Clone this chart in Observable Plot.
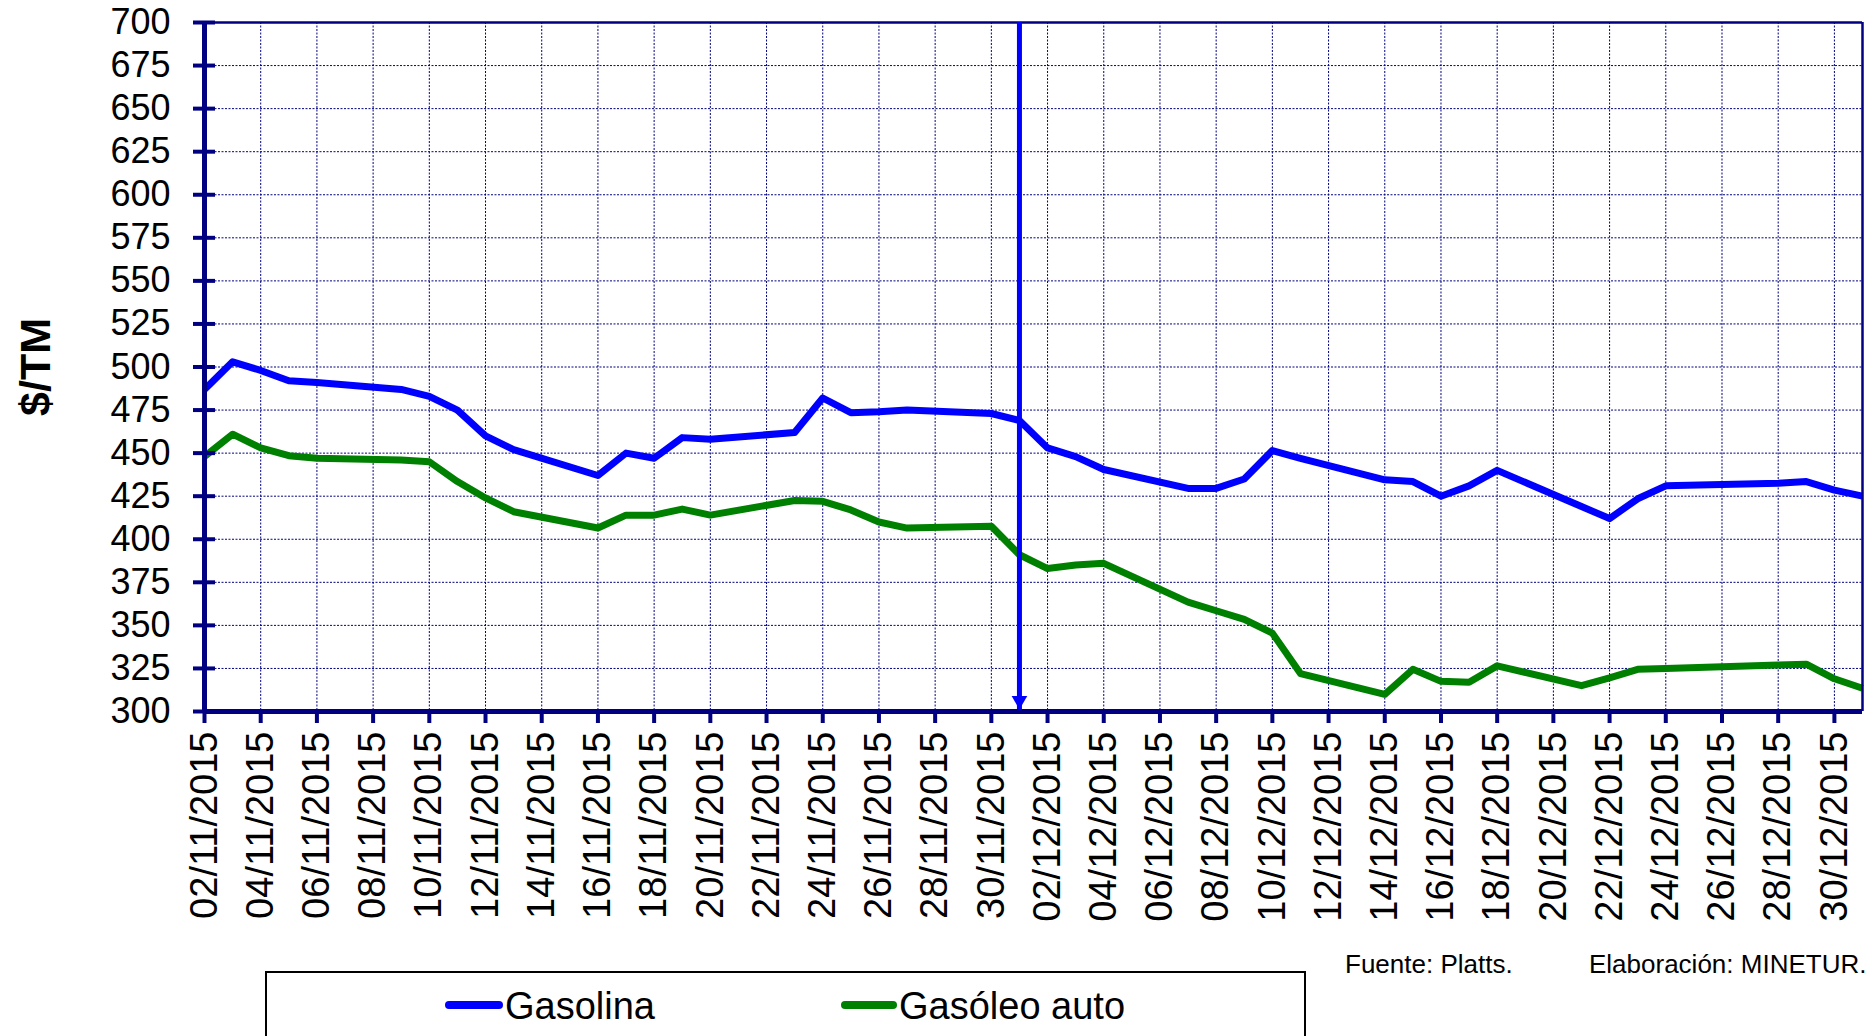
<!DOCTYPE html>
<html>
<head>
<meta charset="utf-8">
<script src="https://cdn.jsdelivr.net/npm/d3@7"></script>
<script src="https://cdn.jsdelivr.net/npm/@observablehq/plot@0.6"></script>
<style>
  html, body { margin: 0; padding: 0; background: #fff; }
  #wrap { position: relative; width: 1876px; height: 1036px; overflow: hidden; font-family: "Liberation Sans", Arial, sans-serif; }
  #chart { position: absolute; left: 0; top: 0; }
  .legend { position: absolute; left: 265px; top: 971px; width: 1041px; height: 100px; border: 2.5px solid #000; box-sizing: border-box; }
  .sw { position: absolute; height: 8px; border-radius: 4px; }
  .lt { position: absolute; font-size: 38px; color: #000; line-height: 1; }
  .cap { position: absolute; font-size: 26px; color: #000; line-height: 1; top: 951px; }
</style>
</head>
<body>
<div id="wrap">
  <div id="chart"></div>
  <div class="legend"></div>
  <div class="sw" style="left:445px; top:1001px; width:58px; background:#0000FF;"></div>
  <div class="lt" style="left:505px; top:987px;">Gasolina</div>
  <div class="sw" style="left:841px; top:1001px; width:56px; background:#008000;"></div>
  <div class="lt" style="left:899px; top:987px;">Gasóleo auto</div>
  <div class="cap" style="left:1345px;">Fuente: Platts.</div>
  <div class="cap" style="left:1589px;">Elaboración: MINETUR.</div>
</div>
<script>
const fechas = [
  "2015-11-02","2015-11-03","2015-11-04","2015-11-05","2015-11-06",
  "2015-11-09","2015-11-10","2015-11-11","2015-11-12","2015-11-13",
  "2015-11-16","2015-11-17","2015-11-18","2015-11-19","2015-11-20",
  "2015-11-23","2015-11-24","2015-11-25","2015-11-26","2015-11-27",
  "2015-11-30","2015-12-01","2015-12-02","2015-12-03","2015-12-04",
  "2015-12-07","2015-12-08","2015-12-09","2015-12-10","2015-12-11",
  "2015-12-14","2015-12-15","2015-12-16","2015-12-17","2015-12-18",
  "2015-12-21","2015-12-22","2015-12-23","2015-12-24",
  "2015-12-28","2015-12-29","2015-12-30","2015-12-31"
];
const gasolina = [
  487, 503, 498, 492, 491,
  487, 483, 475, 460, 452,
  437, 450, 447, 459, 458,
  462, 482, 473.5, 474, 475,
  473, 469, 453, 448, 440.5,
  429.5, 429.5, 435, 451.5, 447,
  434.5, 433.5, 425, 431, 440,
  419, 412, 423.5, 431,
  432.5, 433.5, 428.5, 425
];
const gasoleo = [
  448, 461, 453, 448.5, 447,
  446, 445, 433.5, 424, 416,
  406.5, 414, 414, 417.5, 414,
  422.5, 422, 417, 410, 406.5,
  407.5, 391, 383, 385, 386,
  363.5, 358.5, 353.5, 345.5, 322,
  310, 324.5, 317.5, 317, 326.5,
  315, 319.5, 324.5, 325,
  327, 327.5, 319, 313.5
];
const yTicks = [300,325,350,375,400,425,450,475,500,525,550,575,600,625,650,675,700];
const inicio = "2015-11-02";
const fin = "2015-12-31";
const fechaFlecha = "2015-12-01";

const parse = d3.utcParse("%Y-%m-%d");
const x0 = parse(inicio), x1 = parse(fin), xArrow = parse(fechaFlecha);
const xTicks = d3.utcDay.range(x0, d3.utcDay.offset(x1, 1), 2);
const fmt = d3.utcFormat("%d/%m/%Y");

const dataGasolina = fechas.map((f, i) => ({fecha: parse(f), valor: gasolina[i]}));
const dataGasoleo = fechas.map((f, i) => ({fecha: parse(f), valor: gasoleo[i]}));

const navy = "#000080";
const H = 945;

const chart = Plot.plot({
  width: 1876,
  height: H,
  marginLeft: 204,
  marginRight: 14,
  marginTop: 22,
  marginBottom: H - 711,
  x: {type: "utc", domain: [x0, x1]},
  y: {domain: [300, 700]},
  style: {fontFamily: "'Liberation Sans', Arial, sans-serif", background: "white", color: "black"},
  marks: [
    Plot.ruleY(yTicks.filter(v => v > 300 && v < 700), {stroke: navy, strokeWidth: 1, strokeDasharray: "2,1.5"}),
    Plot.ruleX(xTicks.slice(1), {stroke: navy, strokeWidth: 1, strokeDasharray: "2,1.5"}),
    Plot.line(dataGasoleo, {x: "fecha", y: "valor", stroke: "#008000", strokeWidth: 7, strokeLinejoin: "round", strokeLinecap: "butt"}),
    Plot.line(dataGasolina, {x: "fecha", y: "valor", stroke: "#0000FF", strokeWidth: 7, strokeLinejoin: "round", strokeLinecap: "butt"}),
    Plot.ruleY([700], {stroke: navy, strokeWidth: 2.5}),
    Plot.ruleX([x1], {stroke: navy, strokeWidth: 2.5}),
    Plot.ruleX([xArrow], {y1: 700, y2: 300, stroke: "#0000FF", strokeWidth: 5}),
    Plot.dot([xArrow], {x: d => d, y: () => 300, dy: -11, symbol: "triangle", rotate: 180, r: 5.8, fill: "#0000FF", stroke: "none"}),
    Plot.ruleX([x0], {stroke: navy, strokeWidth: 5}),
    Plot.ruleY([300], {stroke: navy, strokeWidth: 5}),
    Plot.axisY({ticks: yTicks, tickSize: 22, dx: 11, tickPadding: 23, fontSize: 36, stroke: navy, strokeWidth: 4, fill: "black", label: null}),
    Plot.axisX({ticks: xTicks, tickFormat: fmt, tickRotate: -90, tickSize: 12, tickPadding: 8, fontSize: 38, stroke: navy, strokeWidth: 4, fill: "black", label: null}),
    Plot.text(["$/TM"], {frameAnchor: "left", textAnchor: "middle", dx: -168, rotate: -90, fontSize: 43, fontWeight: "bold", fill: "black"})
  ]
});
document.getElementById("chart").appendChild(chart);
</script>
</body>
</html>
